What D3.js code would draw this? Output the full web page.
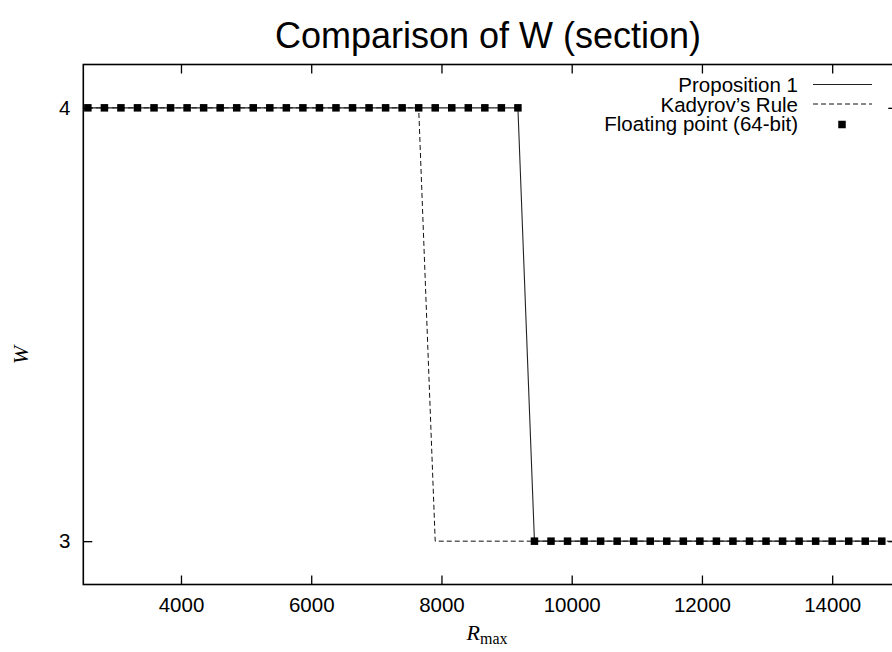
<!DOCTYPE html>
<html>
<head>
<meta charset="utf-8">
<script src="https://cdn.jsdelivr.net/npm/d3@7"></script>
<style>
  body { margin: 0; background: #fff; }
  svg text { font-family: "Liberation Sans", Arial, sans-serif; fill: #000; }
</style>
</head>
<body>
<div id="chart"></div>
<script>
// sample points of R_max (the last one lies just past the right edge and gets clipped)
const rmax = [2570, 2824, 3078, 3332, 3586, 3840, 4094, 4348, 4602, 4856, 5110, 5364, 5618, 5872,
  6126, 6380, 6634, 6888, 7142, 7396, 7650, 7904, 8158, 8412, 8666, 8920, 9174,
  9428, 9682, 9936, 10190, 10444, 10698, 10952, 11206, 11460, 11714, 11968, 12222, 12476,
  12730, 12984, 13238, 13492, 13746, 14000, 14254, 14508, 14762, 15016];

const wProposition = [4, 4, 4, 4, 4, 4, 4, 4, 4, 4, 4, 4, 4, 4, 4, 4, 4, 4, 4, 4, 4, 4, 4, 4, 4, 4, 4,
  3, 3, 3, 3, 3, 3, 3, 3, 3, 3, 3, 3, 3, 3, 3, 3, 3, 3, 3, 3, 3, 3];
const wKadyrov = [4, 4, 4, 4, 4, 4, 4, 4, 4, 4, 4, 4, 4, 4, 4, 4, 4, 4, 4, 4, 4,
  3, 3, 3, 3, 3, 3, 3, 3, 3, 3, 3, 3, 3, 3, 3, 3, 3, 3, 3, 3, 3, 3, 3, 3, 3, 3, 3, 3, 3];
const wFloat = [4, 4, 4, 4, 4, 4, 4, 4, 4, 4, 4, 4, 4, 4, 4, 4, 4, 4, 4, 4, 4, 4, 4, 4, 4, 4, 4,
  3, 3, 3, 3, 3, 3, 3, 3, 3, 3, 3, 3, 3, 3, 3, 3, 3, 3, 3, 3, 3, 3];

const xTicks = [4000, 6000, 8000, 10000, 12000, 14000];
const yTicks = [3, 4];
const xDomain = [2500, 15000];
const yDomain = [2.9, 4.1];

const legendNames = ["Proposition 1", "Kadyrov\u2019s Rule", "Floating point (64-bit)"];

const totalW = 892, totalH = 652;
const margin = { top: 64.5, left: 83.3 };
const width = 814, height = 520;

const svg = d3.select("#chart").append("svg")
  .attr("width", totalW)
  .attr("height", totalH);

const x = d3.scaleLinear().domain(xDomain).range([0, width]);
const y = d3.scaleLinear().domain(yDomain).range([height, 0]);

svg.append("defs").append("clipPath")
  .attr("id", "plot-clip")
  .append("rect")
  .attr("width", width)
  .attr("height", height);

const g = svg.append("g").attr("transform", "translate(" + margin.left + "," + margin.top + ")");

// title
svg.append("text")
  .attr("x", 488)
  .attr("y", 48)
  .attr("text-anchor", "middle")
  .style("font-size", "36px")
  .text("Comparison of W (section)");

// axes (ticks point inward, mirrored on top/right)
const tickLen = 9;
const fs = "20.5px";

g.append("g")
  .attr("transform", "translate(0," + height + ")")
  .call(d3.axisBottom(x).tickValues(xTicks).tickSize(-tickLen).tickPadding(13).tickFormat(d3.format("d")));
g.append("g")
  .call(d3.axisLeft(y).tickValues(yTicks).tickSize(-tickLen).tickPadding(13).tickFormat(d3.format("d")));
g.append("g")
  .call(d3.axisTop(x).tickValues(xTicks).tickSize(-tickLen).tickFormat(""));
g.append("g")
  .attr("transform", "translate(" + width + ",0)")
  .call(d3.axisRight(y).tickValues(yTicks).tickSize(-tickLen).tickFormat(""));

g.selectAll(".domain").remove();
g.selectAll(".tick line").attr("stroke", "#000").attr("stroke-width", 1.3);
g.selectAll(".tick text").style("font-size", fs).style("font-family", "Liberation Sans, Arial, sans-serif").attr("fill", "#000");

// data lines
const plot = g.append("g").attr("clip-path", "url(#plot-clip)");

const lineW = d3.line()
  .x(function(d, i) { return x(rmax[i]); })
  .y(function(d) { return y(d); });

plot.append("path")
  .datum(wKadyrov)
  .attr("fill", "none")
  .attr("stroke", "#111")
  .attr("stroke-width", 1)
  .attr("stroke-dasharray", "5,3")
  .attr("d", lineW);

plot.append("path")
  .datum(wProposition)
  .attr("fill", "none")
  .attr("stroke", "#222")
  .attr("stroke-width", 1.1)
  .attr("d", lineW);

const sq = 7.5;
plot.selectAll("rect.pt")
  .data(wFloat)
  .enter().append("rect")
  .attr("class", "pt")
  .attr("x", function(d, i) { return x(rmax[i]) - sq / 2; })
  .attr("y", function(d) { return y(d) - sq / 2; })
  .attr("width", sq)
  .attr("height", sq)
  .attr("fill", "#000");

// border
g.append("rect")
  .attr("width", width)
  .attr("height", height)
  .attr("fill", "none")
  .attr("stroke", "#000")
  .attr("stroke-width", 1.6);

// legend (rows are tight, like the original)
const legend = svg.append("g");
const legendX = 798, legendY0 = 92, legendStep = 19.5;
legendNames.forEach(function(name, i) {
  const by = legendY0 + i * legendStep;
  legend.append("text")
    .attr("x", legendX)
    .attr("y", by)
    .attr("text-anchor", "end")
    .style("font-size", "20.5px")
    .text(name);
  const cy = by - 7.5;
  if (i === 0) {
    legend.append("line").attr("x1", 813).attr("x2", 872).attr("y1", cy).attr("y2", cy)
      .attr("stroke", "#222").attr("stroke-width", 1.1);
  } else if (i === 1) {
    legend.append("line").attr("x1", 813).attr("x2", 872).attr("y1", cy).attr("y2", cy)
      .attr("stroke", "#111").attr("stroke-width", 1).attr("stroke-dasharray", "5,3");
  } else {
    legend.append("rect").attr("x", 842 - sq / 2).attr("y", cy - sq / 2 + 1)
      .attr("width", sq).attr("height", sq).attr("fill", "#000");
  }
});

// axis labels
const xl = svg.append("text")
  .attr("x", 487)
  .attr("y", 640)
  .attr("text-anchor", "middle")
  .style("font-family", "Liberation Serif, DejaVu Serif, serif")
  .style("font-size", "22px");
xl.append("tspan").style("font-style", "italic").style("font-family", "Liberation Serif, serif").text("R");
xl.append("tspan").style("font-size", "16px").style("font-family", "Liberation Serif, serif").attr("dy", 4).text("max");

svg.append("text")
  .attr("transform", "translate(28,355) rotate(-90)")
  .attr("text-anchor", "middle")
  .style("font-family", "Liberation Serif, DejaVu Serif, serif")
  .style("font-style", "italic")
  .style("font-size", "22px")
  .text("W");
</script>
</body>
</html>
